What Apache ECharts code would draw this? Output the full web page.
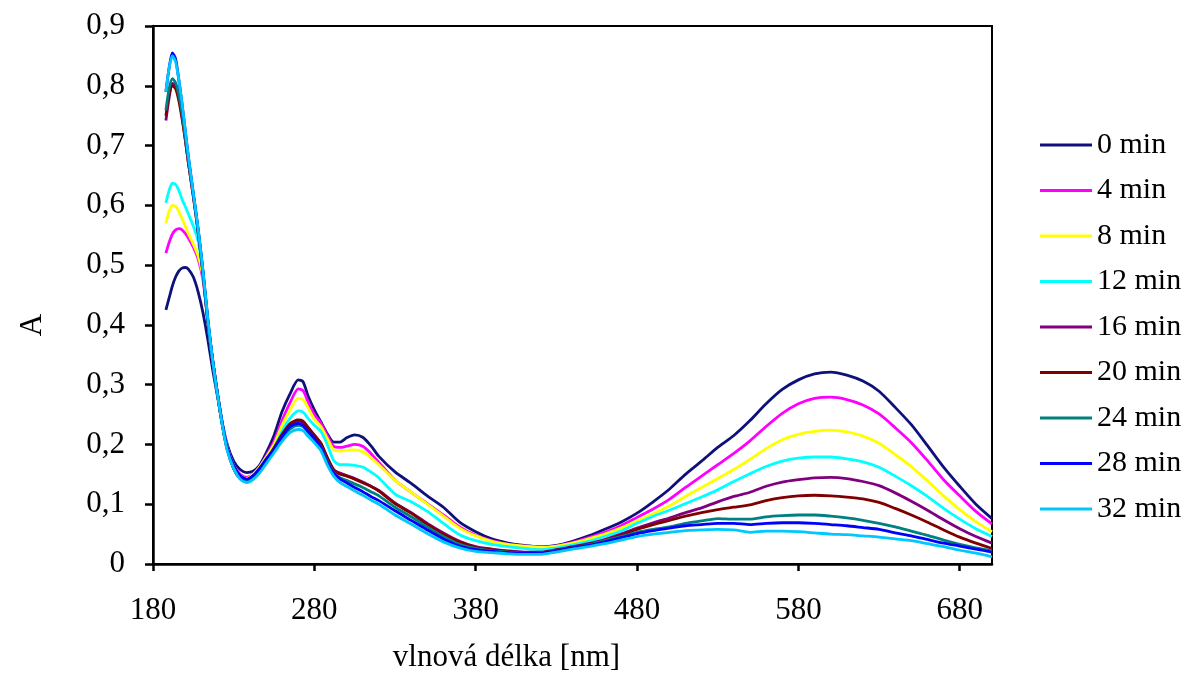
<!DOCTYPE html>
<html>
<head>
<meta charset="utf-8">
<script src="https://cdn.jsdelivr.net/npm/echarts@6/dist/echarts.min.js"></script>
<style>html,body{margin:0;padding:0;background:#fff}#c{width:1200px;height:673px}</style>
</head>
<body>
<div id="c"></div>
<script>
const wavelengths = [188,190,192,194,196,198,200,202,205,208,211,214,217,220,223,226,230,234,238,242,246,250,255,260,265,270,273,276,280,284,288,292,296,300,305,310,315,320,330,340,350,360,370,380,390,400,410,420,430,440,450,460,470,480,490,500,510,520,530,540,550,560,570,580,590,600,610,620,630,640,650,660,670,680,690,700];

const seriesNames = ['0 min','4 min','8 min','12 min','16 min','20 min','24 min','28 min','32 min'];
const seriesColors = ['#10107a','#ff00ff','#ffff00','#00ffff','#800080','#800000','#008080','#0000ff','#00c8ff'];

const a0 = [0.425,0.445,0.465,0.48,0.49,0.495,0.496,0.493,
 0.480,0.455,0.420,0.375,0.325,0.280,0.235,0.200,
 0.172,0.158,0.153,0.155,0.165,0.185,
 0.215,0.255,0.285,0.308,
 0.305,0.282,0.258,0.238,0.218,0.204,0.204,0.211,
 0.216,0.212,0.198,0.180,
 0.154,0.135,0.114,0.095,0.070,0.054,0.042,0.035,0.031,0.029,0.031,0.038,0.047,0.058,0.070,0.085,0.104,0.125,0.150,0.172,0.195,0.215,0.240,0.268,0.292,0.308,0.318,0.321,0.316,0.306,0.289,0.262,0.233,0.198,0.162,0.130,0.100,0.076];
const a4 = [0.52,0.538,0.552,0.559,0.561,0.559,0.553,0.545,
 0.530,0.510,0.475,0.405,0.340,0.285,0.235,0.195,
 0.165,0.150,0.145,0.150,0.162,0.180,
 0.205,0.240,0.270,0.293,
 0.290,0.272,0.250,0.236,0.215,0.197,0.195,0.197,
 0.200,0.197,0.185,0.170,
 0.140,0.120,0.101,0.082,0.062,0.048,0.039,0.033,0.030,0.028,0.030,0.036,0.044,0.053,0.064,0.078,0.092,0.108,0.128,0.147,0.166,0.185,0.206,0.230,0.252,0.268,0.277,0.279,0.275,0.266,0.251,0.228,0.203,0.173,0.141,0.114,0.088,0.067];
const a8 = [0.57,0.59,0.600,0.598,0.590,0.578,0.565,0.552,
 0.535,0.515,0.480,0.405,0.340,0.285,0.235,0.195,
 0.165,0.148,0.143,0.150,0.162,0.178,
 0.200,0.232,0.258,0.277,
 0.275,0.262,0.242,0.230,0.210,0.191,0.189,0.190,
 0.191,0.188,0.178,0.166,
 0.140,0.120,0.100,0.080,0.060,0.047,0.038,0.033,0.030,0.028,0.030,0.035,0.042,0.050,0.060,0.072,0.084,0.097,0.113,0.128,0.143,0.158,0.175,0.193,0.208,0.217,0.222,0.224,0.221,0.214,0.202,0.183,0.163,0.139,0.114,0.091,0.071,0.054];
const a12 = [0.604,0.625,0.637,0.635,0.625,0.610,0.598,0.585,
 0.565,0.540,0.485,0.405,0.340,0.285,0.235,0.195,
 0.163,0.146,0.140,0.146,0.158,0.174,
 0.194,0.222,0.244,0.256,
 0.254,0.244,0.232,0.222,0.200,0.173,0.166,0.166,
 0.165,0.162,0.154,0.144,
 0.117,0.104,0.088,0.068,0.049,0.039,0.033,0.029,0.026,0.024,0.027,0.032,0.038,0.046,0.055,0.068,0.080,0.090,0.101,0.112,0.124,0.138,0.151,0.163,0.172,0.177,0.179,0.179,0.176,0.171,0.162,0.147,0.131,0.113,0.093,0.075,0.059,0.046];
const a16 = [0.742,0.780,0.804,0.800,0.780,0.750,0.710,0.670,
 0.615,0.555,0.485,0.405,0.340,0.283,0.232,0.192,
 0.160,0.143,0.137,0.143,0.156,0.172,
 0.193,0.215,0.232,0.239,
 0.237,0.228,0.215,0.202,0.178,0.158,0.152,0.148,
 0.143,0.137,0.130,0.123,
 0.102,0.086,0.068,0.052,0.038,0.029,0.025,0.022,0.020,0.020,0.024,0.029,0.034,0.041,0.050,0.060,0.069,0.077,0.086,0.094,0.104,0.113,0.120,0.130,0.137,0.141,0.144,0.145,0.143,0.138,0.131,0.119,0.105,0.090,0.074,0.059,0.046,0.035];
const a20 = [0.750,0.785,0.800,0.795,0.775,0.745,0.710,0.670,
 0.615,0.555,0.485,0.405,0.340,0.283,0.232,0.192,
 0.160,0.143,0.138,0.144,0.157,0.173,
 0.194,0.217,0.235,0.241,
 0.239,0.229,0.216,0.202,0.178,0.157,0.150,0.147,
 0.142,0.136,0.130,0.122,
 0.101,0.085,0.066,0.050,0.037,0.028,0.024,0.021,0.019,0.019,0.023,0.028,0.033,0.040,0.048,0.058,0.066,0.073,0.080,0.086,0.091,0.095,0.099,0.106,0.111,0.114,0.115,0.114,0.112,0.109,0.103,0.093,0.082,0.070,0.057,0.045,0.035,0.026];
const a24 = [0.759,0.795,0.812,0.805,0.785,0.755,0.715,0.675,
 0.618,0.557,0.487,0.405,0.340,0.283,0.232,0.192,
 0.160,0.143,0.138,0.144,0.156,0.171,
 0.190,0.210,0.226,0.232,
 0.230,0.221,0.209,0.196,0.172,0.153,0.144,0.140,
 0.134,0.128,0.121,0.114,
 0.095,0.079,0.062,0.046,0.033,0.026,0.022,0.020,0.018,0.018,0.022,0.027,0.032,0.039,0.046,0.053,0.058,0.062,0.068,0.072,0.076,0.075,0.075,0.079,0.081,0.082,0.082,0.080,0.077,0.073,0.068,0.062,0.055,0.048,0.040,0.033,0.027,0.022];
const a28 = [0.790,0.830,0.855,0.845,0.810,0.770,0.725,0.680,
 0.620,0.560,0.490,0.410,0.340,0.285,0.235,0.195,
 0.165,0.148,0.142,0.148,0.160,0.175,
 0.192,0.213,0.230,0.235,
 0.232,0.222,0.210,0.195,0.170,0.152,0.142,0.136,
 0.128,0.121,0.113,0.106,
 0.089,0.073,0.057,0.042,0.030,0.024,0.021,0.019,0.018,0.018,0.022,0.027,0.031,0.037,0.044,0.051,0.056,0.060,0.064,0.066,0.068,0.068,0.066,0.068,0.069,0.069,0.068,0.066,0.064,0.061,0.058,0.052,0.047,0.041,0.035,0.030,0.025,0.020];
const a32 = [0.790,0.830,0.850,0.840,0.810,0.770,0.725,0.680,
 0.620,0.560,0.490,0.410,0.340,0.283,0.232,0.190,
 0.160,0.142,0.136,0.141,0.152,0.167,
 0.186,0.205,0.220,0.225,
 0.223,0.214,0.203,0.190,0.166,0.147,0.136,0.130,
 0.122,0.115,0.107,0.100,
 0.082,0.067,0.051,0.037,0.027,0.021,0.019,0.017,0.016,0.016,0.020,0.025,0.029,0.034,0.040,0.046,0.050,0.053,0.056,0.057,0.058,0.057,0.053,0.055,0.055,0.054,0.052,0.050,0.049,0.047,0.045,0.042,0.039,0.034,0.029,0.023,0.018,0.012];

const seriesValues = [a0,a4,a8,a12,a16,a20,a24,a28,a32];
const yTickLabels = ['0','0,1','0,2','0,3','0,4','0,5','0,6','0,7','0,8','0,9'];
const xTickLabels = ['180','280','380','480','580','680'];

const FONT = 'Liberation Serif';
const chart = echarts.init(document.getElementById('c'), null, {renderer:'canvas'});
chart.setOption({
  animation: false,
  backgroundColor: '#fff',
  grid: {left: 153, right: 208, top: 26, bottom: 109, outerBoundsMode: 'none', containLabel: false,
    show: true, borderColor: '#000', borderWidth: 2, backgroundColor: 'transparent'},
  legend: {
    orient: 'vertical', left: 1040, top: 130, padding: 0,
    icon: 'rect', itemWidth: 52, itemHeight: 3, itemGap: 15.5,
    textStyle: {fontFamily: FONT, fontSize: 30, color: '#000', lineHeight: 30},
    data: seriesNames
  },
  xAxis: {
    type: 'value', min: 180, max: 700, interval: 100,
    name: 'vlnová délka [nm]', nameLocation: 'middle', nameGap: 78,
    nameTextStyle: {fontFamily: FONT, fontSize: 31, color: '#000', padding: [0,132,0,0]},
    axisLine: {show: true, lineStyle: {color: '#000', width: 2.5}},
    axisTick: {show: true, inside: false, length: 7, lineStyle: {color: '#000', width: 2.5}},
    axisLabel: {fontFamily: FONT, fontSize: 31, color: '#000', margin: 31, showMaxLabel: false,
      formatter: v => { const i = xTickLabels.indexOf(String(Math.round(v))); return i >= 0 ? xTickLabels[i] : ''; }},
    splitLine: {show: false}
  },
  yAxis: {
    type: 'value', min: 0, max: 0.9, interval: 0.1,
    name: 'A', nameLocation: 'middle', nameGap: 105,
    nameTextStyle: {fontFamily: FONT, fontSize: 31, color: '#000', padding: [0,60,0,0]},
    axisLine: {show: true, lineStyle: {color: '#000', width: 2.5}},
    axisTick: {show: true, inside: false, length: 8, lineStyle: {color: '#000', width: 2.5}},
    axisLabel: {fontFamily: FONT, fontSize: 31, color: '#000', margin: 28,
      formatter: v => yTickLabels[Math.round(v * 10)]},
    splitLine: {show: false}
  },
  series: seriesNames.map((n, k) => ({
    name: n, type: 'line', symbol: 'none', smooth: 0.25,
    lineStyle: {color: seriesColors[k], width: 2.8},
    itemStyle: {color: seriesColors[k]},
    data: wavelengths.map((w, i) => [w, seriesValues[k][i]])
  }))
});
</script>
</body>
</html>
